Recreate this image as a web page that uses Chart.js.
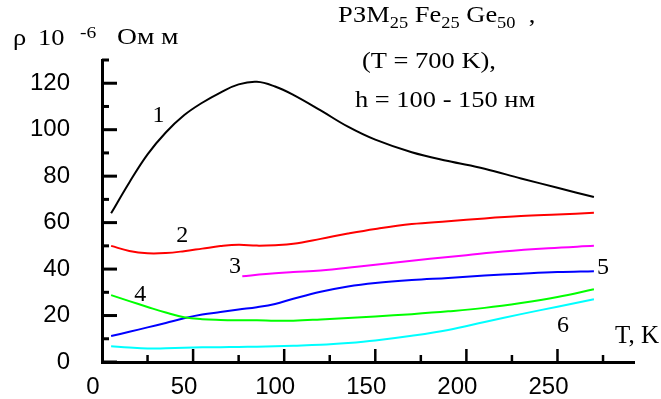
<!DOCTYPE html>
<html>
<head>
<meta charset="utf-8">
<script src="https://cdn.jsdelivr.net/npm/chart.js@4"></script>
<style>
  body { margin: 0; background: #fff; }
  #wrap { width: 661px; height: 399px; }
</style>
</head>
<body>
<div id="wrap"><canvas id="canvas" width="661" height="399"></canvas></div>
<script>
// Температура, K (общая сетка для кривых 1, 2, 4, 5, 6)
const temps = [5, 15, 25, 35, 45, 55, 65, 75, 85, 95, 105, 120, 135, 150, 170, 190, 210, 230, 250, 270];

// Удельное сопротивление, 10^-6 Ом м
const curve1 = [64, 77.3, 89.4, 98.8, 106.2, 111.6, 116, 119.5, 120.6, 118.6, 115, 108.3, 101.3, 95.7, 90.3, 86.5, 83.2, 79, 75, 71];
const curve2 = [50, 47.8, 46.8, 46.9, 47.7, 48.8, 49.9, 50.5, 50.1, 50.3, 50.9, 53, 55.3, 57.3, 59.4, 60.6, 61.8, 62.8, 63.5, 64.2];
const curve4 = [28.8, 26.2, 23.7, 21.3, 19.3, 18.4, 18.1, 18, 18, 17.8, 17.8, 18.3, 18.9, 19.6, 20.6, 21.8, 23.3, 25.4, 28, 31.3];
const curve5 = [11.2, 13, 14.9, 16.8, 18.8, 20.4, 21.5, 22.6, 23.6, 25, 27.2, 30.2, 32.5, 34, 35.3, 36.2, 37.2, 38, 38.7, 39.1];
const curve6 = [6.8, 6.2, 5.8, 5.9, 6.1, 6.3, 6.4, 6.5, 6.6, 6.8, 7, 7.4, 8.2, 9.3, 11.3, 13.8, 17.2, 20.6, 23.8, 27];

// кривая 3 начинается только с ~77 K
const temps3 = [77, 90, 105, 120, 140, 160, 180, 200, 220, 245, 270];
const curve3 = [36.9, 37.9, 38.7, 39.4, 41, 42.7, 44.4, 46, 47.6, 49, 50];

// подписи делений
const xTickLabels = [0, 50, 100, 150, 200, 250];
const yTickLabels = [0, 20, 40, 60, 80, 100, 120];

// номера кривых и где они стоят (в координатах данных)
const curveNames = ['1', '2', '3', '4', '5', '6'];
const nameT = [31, 44, 73, 21, 275, 253];
const nameV = [106, 54.5, 41, 29, 40.5, 15.5];

const serif = "'Liberation Serif', 'Times New Roman', serif";

const toPoints = (xs, ys) => xs.map((t, i) => ({ x: t, y: ys[i] }));

// Засечки внутрь графика (длинные на подписанных значениях)
const innerTicks = {
  id: 'innerTicks',
  afterDraw(chart) {
    const ctx = chart.ctx;
    const xs = chart.scales.x;
    const ys = chart.scales.y;
    ctx.save();
    ctx.strokeStyle = '#000';
    ctx.lineCap = 'butt';
    ctx.lineWidth = 3;
    ys.ticks.forEach(t => {
      const v = Math.round(t.value);
      const py = ys.getPixelForValue(v);
      const len = (v % 20 === 0) ? 15 : 7;
      ctx.beginPath();
      ctx.moveTo(ys.right, py);
      ctx.lineTo(ys.right + len, py);
      ctx.stroke();
    });
    ctx.lineWidth = 2.5;
    xs.ticks.forEach(t => {
      const v = Math.round(t.value);
      if (v === 0) return;
      const px = xs.getPixelForValue(v);
      const len = (v % 50 === 0) ? 13 : 7;
      ctx.beginPath();
      ctx.moveTo(px, xs.top);
      ctx.lineTo(px, xs.top - len);
      ctx.stroke();
    });
    ctx.restore();
  }
};

// текст с растяжкой по горизонтали, куски могут быть индексами
function drawRuns(ctx, runs, x, y, size, sx) {
  let cx = x;
  runs.forEach(([text, sub]) => {
    const fs = sub ? Math.round(size * 0.68) : size;
    ctx.font = fs + 'px ' + serif;
    const dy = sub === 'sub' ? size * 0.28 : 0;
    ctx.save();
    ctx.translate(cx, y + dy);
    ctx.scale(sx, 1);
    ctx.fillText(text, 0, 0);
    ctx.restore();
    cx += ctx.measureText(text).width * sx;
  });
}

const annotations = {
  id: 'annotations',
  afterDraw(chart) {
    const ctx = chart.ctx;
    const xs = chart.scales.x;
    const ys = chart.scales.y;
    ctx.save();
    ctx.fillStyle = '#000';
    ctx.textBaseline = 'alphabetic';
    ctx.textAlign = 'left';

    // подпись оси Y
    drawRuns(ctx, [['ρ']], 13, 45, 23, 1.15);
    drawRuns(ctx, [['10']], 38, 45, 23, 1.15);
    drawRuns(ctx, [['-6']], 80, 38, 17, 1.15);
    drawRuns(ctx, [['Ом']], 117, 44, 23, 1.2);
    drawRuns(ctx, [['м']], 161, 44, 23, 1.2);

    // заголовок
    drawRuns(ctx, [['РЗМ'], ['25', 'sub'], [' Fe'], ['25', 'sub'], [' Ge'], ['50', 'sub'], ['  ,']], 338, 22, 23, 1.15);
    drawRuns(ctx, [['(T = 700 K),']], 362, 68, 23, 1.15);
    drawRuns(ctx, [['h = 100 - 150 нм']], 355, 107, 23, 1.15);

    // подпись оси X
    drawRuns(ctx, [['T, K']], 615, 343, 25, 1.0);

    // номера кривых
    ctx.font = '24px ' + serif;
    ctx.textAlign = 'center';
    ctx.textBaseline = 'middle';
    curveNames.forEach((n, i) => {
      ctx.fillText(n, xs.getPixelForValue(nameT[i]), ys.getPixelForValue(nameV[i]));
    });
    ctx.restore();
  }
};

const lineStyle = (color) => ({
  borderColor: color,
  backgroundColor: color,
  borderWidth: 2,
  pointRadius: 0,
  fill: false,
  tension: 0.4
});

new Chart(document.getElementById('canvas'), {
  type: 'line',
  data: {
    datasets: [
      { label: '1', data: toPoints(temps, curve1), ...lineStyle('#000000') },
      { label: '2', data: toPoints(temps, curve2), ...lineStyle('#ff0000') },
      { label: '3', data: toPoints(temps3, curve3), ...lineStyle('#ff00ff') },
      { label: '4', data: toPoints(temps, curve4), ...lineStyle('#00ff00') },
      { label: '5', data: toPoints(temps, curve5), ...lineStyle('#0000ff') },
      { label: '6', data: toPoints(temps, curve6), ...lineStyle('#00ffff') }
    ]
  },
  options: {
    responsive: false,
    devicePixelRatio: 1,
    animation: false,
    layout: { padding: { top: 60, right: 27, left: 0, bottom: 0 } },
    plugins: {
      legend: { display: false },
      tooltip: { enabled: false },
      title: { display: false }
    },
    scales: {
      x: {
        type: 'linear',
        min: 0,
        max: 292,
        grid: { display: false, tickLength: 8 },
        border: { display: true, color: '#000', width: 3 },
        afterFit: (scale) => { scale.height = 37; },
        ticks: {
          stepSize: 25,
          includeBounds: false,
          autoSkip: false,
          maxRotation: 0,
          padding: 3,
          labelOffset: -9,
          color: '#000',
          font: { family: "'Liberation Sans', Arial, sans-serif", size: 24 },
          callback: (v) => xTickLabels.includes(v) ? String(v) : ''
        }
      },
      y: {
        type: 'linear',
        min: 0,
        max: 130,
        grid: { display: false, tickLength: 30 },
        border: { display: true, color: '#000', width: 3 },
        afterFit: (scale) => { scale.width = 102; },
        ticks: {
          stepSize: 10,
          autoSkip: false,
          padding: 2,
          color: '#000',
          font: { family: "'Liberation Sans', Arial, sans-serif", size: 24 },
          callback: (v) => yTickLabels.includes(v) ? String(v) : ''
        }
      }
    }
  },
  plugins: [innerTicks, annotations]
});
</script>
</body>
</html>
